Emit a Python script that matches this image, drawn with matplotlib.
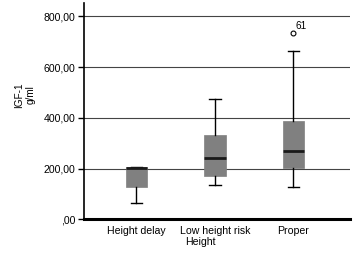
import matplotlib
matplotlib.use("Agg")
import matplotlib.pyplot as plt

categories = ["Height delay", "Low height risk", "Proper"]
whislo = [65, 135, 127]
q1 = [129, 172, 201]
med = [204, 243, 271]
q3 = [207, 333, 389]
whishi = [207, 473, 665]
fliers = [[], [], [735]]
flier_labels = [[], [], ["61"]]
yticks = [0, 200, 400, 600, 800]
ytick_labels = [",00", "200,00", "400,00", "600,00", "800,00"]

plt.rcParams['font.family'] = ['Liberation Sans', 'DejaVu Sans']
fs = 7.6

fig = plt.figure(figsize=(3.63, 2.54), dpi=100)
ax = fig.add_axes([0.231, 0.136, 0.733, 0.852])

stats = []
for i, c in enumerate(categories):
    stats.append(dict(label=c, whislo=whislo[i], q1=q1[i], med=med[i],
                      q3=q3[i], whishi=whishi[i], fliers=fliers[i]))

positions = list(range(len(categories)))
ax.bxp(stats, positions=positions, widths=0.27, patch_artist=True,
       boxprops=dict(facecolor="#808080", edgecolor="#808080", linewidth=0.5),
       medianprops=dict(color="#1a1a1a", linewidth=2),
       whiskerprops=dict(color="black", linewidth=1),
       capprops=dict(color="black", linewidth=1),
       capwidths=0.15,
       flierprops=dict(marker="o", markersize=3.5, markerfacecolor="white",
                       markeredgecolor="black", markeredgewidth=0.8),
       zorder=3)

for i, (fl, lbls) in enumerate(zip(fliers, flier_labels)):
    for v, l in zip(fl, lbls):
        ax.annotate(l, (positions[i], v), xytext=(1.5, 1.0), textcoords="offset points",
                    fontsize=7.2, ha="left", va="bottom", zorder=4)

ax.set_xlim(-0.67, 2.72)
ax.set_ylim(0, 852)
ax.set_yticks(yticks)
ax.set_yticklabels(ytick_labels, fontsize=fs)
ax.set_xticks(positions)
ax.set_xticklabels(categories, fontsize=fs)
ax.tick_params(axis="x", length=0, pad=5)
ax.tick_params(axis="y", length=4, width=1, pad=2)
for y in yticks[1:]:
    ax.axhline(y, color="#444444", linewidth=0.8, zorder=1)

for s in ["top", "right"]:
    ax.spines[s].set_visible(False)
ax.spines["left"].set_linewidth(1.2)
ax.spines["bottom"].set_linewidth(2.2)

fig.text(25/363, 1 - 95/254, "IGF-1\ng/ml", fontsize=7.2, ha="center", va="center",
         rotation=90, linespacing=1.2, multialignment="center")
fig.text(200/363, 1 - 242/254, "Height", fontsize=fs, ha="center", va="center")

fig.savefig("out.png", dpi=100)
